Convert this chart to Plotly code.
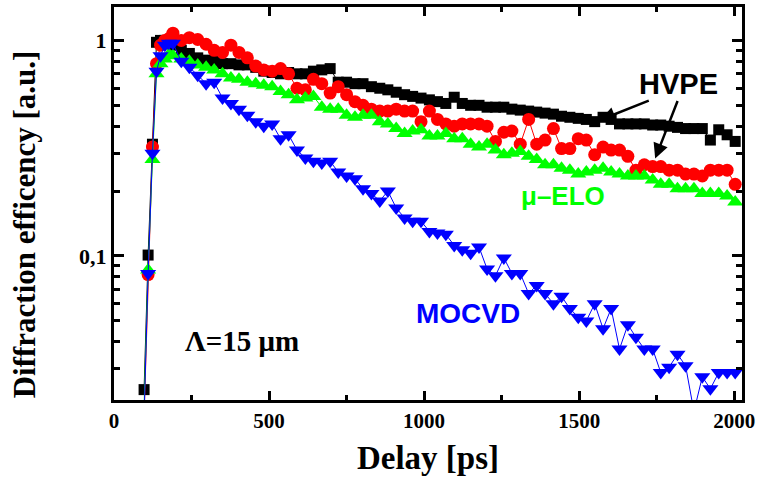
import plotly.graph_objects as go

delay_ps = [97, 110, 124, 137, 150, 164, 177, 190,
            217, 243, 270, 297, 323, 350, 377, 403, 430, 457, 483, 510, 537, 563, 590, 617,
            643, 670, 697, 723, 750, 777, 803, 830, 857, 883, 910, 937, 963, 990, 1017, 1043,
            1070, 1097, 1123, 1150, 1177, 1203, 1230, 1257, 1283, 1310, 1337, 1363, 1390, 1417,
            1443, 1470, 1497, 1523, 1550, 1577, 1603, 1630, 1657, 1683, 1710, 1737, 1763, 1790,
            1817, 1843, 1870, 1897, 1923, 1950, 1977, 2003]

hvpe_black = [0.024, 0.101, 0.33, 0.98, 1.0, 1.0, 0.97, 0.95,
              0.90, 0.87, 0.83, 0.81, 0.80, 0.78, 0.78, 0.77, 0.77, 0.75, 0.72, 0.71, 0.70, 0.71, 0.70, 0.70,
              0.72, 0.73, 0.74, 0.64, 0.64, 0.63, 0.63, 0.61, 0.60, 0.59, 0.575, 0.56, 0.55, 0.54, 0.53, 0.52,
              0.51, 0.545, 0.51, 0.50, 0.50, 0.49, 0.49, 0.49, 0.48, 0.475, 0.47, 0.465, 0.46, 0.455,
              0.445, 0.44, 0.435, 0.43, 0.42, 0.44, 0.43, 0.41, 0.41, 0.41, 0.41, 0.405, 0.405, 0.40,
              0.395, 0.39, 0.39, 0.39, 0.345, 0.385, 0.365, 0.34]

hvpe_red = [0.018, 0.082, 0.32, 0.78, 0.95, 1.0, 1.02, 1.08,
            1.0, 1.03, 1.01, 0.96, 0.90, 0.88, 0.95, 0.88, 0.83, 0.76, 0.73, 0.72, 0.74, 0.70, 0.60, 0.59,
            0.66, 0.63, 0.57, 0.61, 0.56, 0.52, 0.50, 0.48, 0.47, 0.47, 0.48, 0.47, 0.47, 0.42, 0.47, 0.43,
            0.41, 0.40, 0.41, 0.41, 0.41, 0.40, 0.34, 0.375, 0.38, 0.33, 0.43, 0.33, 0.345, 0.39,
            0.315, 0.315, 0.35, 0.345, 0.295, 0.32, 0.31, 0.31, 0.29, 0.25, 0.265, 0.26, 0.26, 0.25,
            0.25, 0.24, 0.24, 0.235, 0.25, 0.25, 0.25, 0.215]

elo_green = [0.02, 0.086, 0.28, 0.70, 0.78, 0.82, 0.86, 0.85,
             0.82, 0.80, 0.77, 0.75, 0.73, 0.70, 0.67, 0.66, 0.64, 0.63, 0.62, 0.61, 0.58, 0.56, 0.53, 0.54,
             0.55, 0.49, 0.48, 0.48, 0.45, 0.44, 0.45, 0.45, 0.42, 0.41, 0.39, 0.37, 0.38, 0.385, 0.36, 0.36,
             0.37, 0.35, 0.35, 0.33, 0.32, 0.33, 0.31, 0.295, 0.30, 0.305, 0.29, 0.28, 0.265, 0.265,
             0.255, 0.25, 0.24, 0.245, 0.25, 0.255, 0.245, 0.24, 0.235, 0.235, 0.235, 0.225, 0.215, 0.215,
             0.205, 0.205, 0.205, 0.195, 0.195, 0.195, 0.19, 0.178]

mocvd_blue = [0.018, 0.083, 0.30, 0.72, 0.85, 0.95, 0.97, 0.97,
              0.80, 0.75, 0.69, 0.63, 0.64, 0.54, 0.51, 0.48, 0.45, 0.42, 0.40, 0.41, 0.35, 0.365, 0.31, 0.285,
              0.275, 0.27, 0.275, 0.245, 0.235, 0.228, 0.205, 0.195, 0.18, 0.20, 0.167, 0.15, 0.145, 0.145, 0.13, 0.128,
              0.126, 0.112, 0.107, 0.103, 0.11, 0.087, 0.081, 0.098, 0.083, 0.083, 0.067, 0.073, 0.067, 0.06,
              0.065, 0.057, 0.052, 0.05, 0.06, 0.046, 0.057, 0.037, 0.048, 0.042, 0.037, 0.037, 0.0288, 0.0305,
              0.035, 0.031, 0.019, 0.0275, 0.0242, 0.0288, 0.0288, 0.0288]

x_tick_vals = [0, 500, 1000, 1500, 2000]
y_tick_vals = [0.1, 1]
y_tick_text = ["0,1", "1"]
y_minor_vals = [0.03, 0.04, 0.05, 0.06, 0.07, 0.08, 0.09, 0.2, 0.3, 0.4, 0.5, 0.6, 0.7, 0.8, 0.9]

series = [
    ("HVPE (black)", hvpe_black, "#000000", "square", 11),
    ("HVPE (red)", hvpe_red, "#FF0000", "circle", 13),
    ("μ-ELO", elo_green, "#00FF00", "triangle-up", 14),
    ("MOCVD", mocvd_blue, "#0000FF", "triangle-down", 14),
]

fig = go.Figure()
for name, vals, color, sym, sz in series:
    fig.add_trace(go.Scatter(
        x=delay_ps, y=vals, mode="lines+markers", name=name,
        line=dict(color=color, width=1),
        marker=dict(symbol=sym, size=sz, color=color, line=dict(width=0)),
        cliponaxis=True,
    ))

serif = "Liberation Serif, Times New Roman, serif"
sans = "Liberation Sans, Arial, sans-serif"

fig.update_layout(
    width=759, height=486,
    margin=dict(l=114, r=17, t=4, b=86),
    paper_bgcolor="white", plot_bgcolor="white",
    showlegend=False,
    font=dict(family=serif, color="black"),
)

fig.update_xaxes(
    range=[0, 2025], showgrid=False, zeroline=False,
    showline=True, linecolor="black", linewidth=3, mirror="ticks",
    ticks="inside", ticklen=9, tickwidth=3, tickcolor="black",
    tickvals=x_tick_vals,
    tickfont=dict(family=serif, size=21, color="black", weight="bold"),
    minor=dict(ticks="inside", ticklen=5, tickwidth=3, tickcolor="black", dtick=250, tick0=0, showgrid=False),
    title=dict(text="<b>Delay [ps]</b>", font=dict(family=serif, size=33, color="black"), standoff=14),
)

fig.update_yaxes(
    type="log", range=[-1.668, 0.155], showgrid=False, zeroline=False,
    showline=True, linecolor="black", linewidth=3, mirror="ticks",
    ticks="inside", ticklen=10, tickwidth=3, tickcolor="black",
    tickvals=y_tick_vals, ticktext=y_tick_text,
    tickfont=dict(family=serif, size=22, color="black", weight="bold"),
    minor=dict(ticks="inside", ticklen=6, tickwidth=3, tickcolor="black", tickvals=y_minor_vals, showgrid=False),
)

# y-axis title placed as rotated text left of the axis
fig.add_annotation(xref="paper", yref="paper", x=-0.1433, y=0.447, xanchor="center", yanchor="middle",
                   text="<b>Diffraction efficency [a.u.]</b>", textangle=-90, showarrow=False,
                   font=dict(family=serif, size=31, color="black"))

# text labels
fig.add_annotation(x=1819, y=-0.203, text="<b>HVPE</b>", showarrow=False,
                   font=dict(family=sans, size=29, color="black"))
fig.add_annotation(x=1448, y=-0.7235, text="<b>μ–ELO</b>", showarrow=False,
                   font=dict(family=sans, size=26, color="#00FF00"))
fig.add_annotation(x=1142, y=-1.267, text="<b>MOCVD</b>", showarrow=False,
                   font=dict(family=sans, size=28, color="#0000FF"))
fig.add_annotation(x=413, y=-1.392, text="<b>Λ=15 μm</b>", showarrow=False,
                   font=dict(family=serif, size=29, color="black"))

# arrows from HVPE label
fig.add_annotation(x=1568, y=-0.369, ax=50, ay=-20, text="", showarrow=True,
                   arrowhead=2, arrowsize=1.2, arrowwidth=2.5, arrowcolor="black")
fig.add_annotation(x=1745, y=-0.548, ax=23, ay=-59, text="", showarrow=True,
                   arrowhead=2, arrowsize=1.2, arrowwidth=2.5, arrowcolor="black")

fig.write_html("out.html")
